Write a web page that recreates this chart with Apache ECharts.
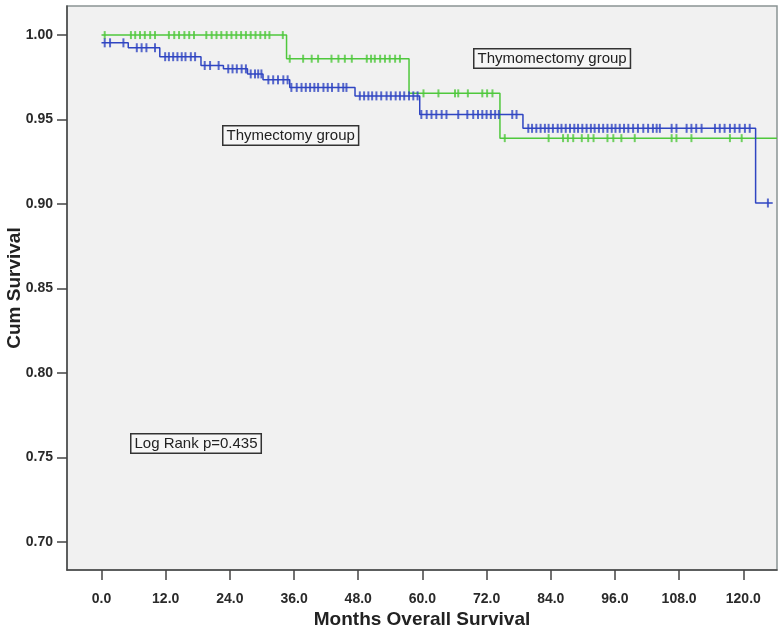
<!DOCTYPE html>
<html>
<head>
<meta charset="utf-8">
<script src="https://cdn.jsdelivr.net/npm/echarts@6/dist/echarts.min.js"></script>
<style>
  html, body { margin: 0; padding: 0; background: #fff; }
  #chart { width: 783px; height: 632px; }
</style>
</head>
<body>
<div id="chart"></div>
<script>
// axis ticks
const xTicks = [0, 12, 24, 36, 48, 60, 72, 84, 96, 108, 120];
const yTicks = [0.70, 0.75, 0.80, 0.85, 0.90, 0.95, 1.00];

// Thymomectomy group (green): step times and survival after each step
const thymomTimes = [0, 34.6, 57.5, 74.5, 126.3];
const thymomSurv = [1.0, 0.986, 0.9655, 0.939, 0.939];
const thymomCensor = [0.6, 5.5, 6.3, 7.2, 8.1, 9.1, 10, 12.6, 13.6, 14.5, 15.5, 16.4, 17.3,
  19.6, 20.6, 21.5, 22.4, 23.4, 24.3, 25.2, 26.1, 27, 27.9, 28.8, 29.7, 30.6, 31.4, 33.9,
  35.2, 37.7, 39.3, 40.5, 43, 44.3, 45.5, 46.8, 49.6, 50.4, 51.1, 52.1, 53, 53.9, 54.9, 55.8,
  60.2, 63, 66.1, 66.7, 68.5, 71.2, 72.1, 73.1,
  75.4, 83.6, 86.3, 87.2, 88.2, 89.8, 91, 92, 94.6, 95.7, 97.2, 99.7, 106.6, 107.5, 110.3, 117.5, 119.7];

// Thymectomy group (blue)
const thymecTimes = [0, 5.0, 10.9, 18.6, 22.8, 27.3, 30.2, 35.2, 47.4, 59.5, 78.8, 122.3, 125.5];
const thymecSurv = [0.9954, 0.9925, 0.9872, 0.982, 0.980, 0.977, 0.9735, 0.969, 0.964, 0.953, 0.9448, 0.9006, 0.9006];
const thymecCensor = [0.6, 1.6, 4.1, 6.6, 7.5, 8.4, 10, 11.9, 12.6, 13.4, 14.2, 15, 15.7, 16.7, 17.5,
  19.3, 20.3, 21.9, 23.7, 24.5, 25.3, 26.2, 27, 27.9, 28.7, 29.3, 29.9, 31.2, 32.1, 33, 34, 34.8,
  35.5, 36.5, 37.4, 38.2, 39, 39.8, 40.5, 41.5, 42.3, 43.1, 44.3, 45.2, 45.8,
  48.3, 49.1, 49.9, 50.6, 51.4, 52.3, 53.3, 54.1, 55, 55.8, 56.6, 57.5, 58.3, 59.1,
  59.8, 60.8, 61.7, 62.6, 63.6, 64.5, 66.7, 68.4, 69.5, 70.4, 71.2, 72, 72.8, 73.6, 74.3, 76.8, 77.6,
  79.8, 80.5, 81.3, 82.1, 82.9, 83.6, 84.4, 85.3, 86, 86.8, 87.6, 88.4, 89.1, 89.9, 90.7, 91.5, 92.2,
  93, 93.8, 94.6, 95.4, 96.1, 96.9, 97.7, 98.5, 99.4, 100.3, 101.3, 102.2, 103.1, 103.8, 104.4,
  106.6, 107.5, 109.4, 110.3, 111.2, 112.2, 114.7, 115.6, 116.5, 117.5, 118.4, 119.3, 120.3, 121.2,
  124.6];

const greenColor = '#4fc83c';
const blueColor = '#2f45c2';

function survAt(times, surv, t) {
  let s = surv[0];
  for (let i = 0; i < times.length; i++) {
    if (times[i] <= t) s = surv[i];
  }
  return s;
}

function stepData(times, surv) {
  return times.map((t, i) => [t, surv[i]]);
}

function censorData(censor, times, surv) {
  return censor.map(t => [t, survAt(times, surv, t)]);
}

const chart = echarts.init(document.getElementById('chart'));

const tickFont = {
  fontFamily: 'Liberation Sans',
  fontSize: 14,
  fontWeight: 'bold',
  color: '#2a2a2a'
};

function boxText(text, x, y) {
  return {
    type: 'text',
    left: x,
    top: y,
    z: 100,
    style: {
      text: text,
      fontFamily: 'Liberation Sans',
      fontSize: 15,
      fill: '#222',
      backgroundColor: '#f6f6f6',
      borderColor: '#333',
      borderWidth: 1.5,
      padding: [2, 3, 1, 3]
    }
  };
}

const option = {
  animation: false,
  backgroundColor: '#fff',
  grid: {
    left: 67,
    right: 6,
    top: 6,
    bottom: 62,
    outerBoundsMode: 'none',
    containLabel: false,
    show: true,
    backgroundColor: '#f1f1f1',
    borderColor: '#8a9494',
    borderWidth: 1.5
  },
  xAxis: {
    type: 'value',
    min: -6.45,
    max: 126.3,
    name: 'Months Overall Survival',
    nameLocation: 'middle',
    nameGap: 40,
    nameMoveOverlap: false,
    nameTextStyle: {
      fontFamily: 'Liberation Sans',
      fontSize: 19,
      fontWeight: 'bold',
      color: '#222'
    },
    axisLine: { show: true, onZero: false, lineStyle: { color: '#444', width: 1.5 } },
    axisTick: { show: true, length: 10, customValues: xTicks, lineStyle: { color: '#444', width: 1.5 } },
    axisLabel: Object.assign({
      customValues: xTicks,
      margin: 22,
      formatter: v => v.toFixed(1)
    }, tickFont),
    splitLine: { show: false }
  },
  yAxis: {
    type: 'value',
    min: 0.6834,
    max: 1.0172,
    name: 'Cum Survival',
    nameLocation: 'middle',
    nameGap: 43,
    nameMoveOverlap: false,
    nameTextStyle: {
      fontFamily: 'Liberation Sans',
      fontSize: 19,
      fontWeight: 'bold',
      color: '#222'
    },
    axisLine: { show: true, onZero: false, lineStyle: { color: '#444', width: 1.5 } },
    axisTick: { show: true, length: 10, customValues: yTicks, lineStyle: { color: '#444', width: 1.5 } },
    axisLabel: Object.assign({
      customValues: yTicks,
      margin: 14,
      formatter: v => v.toFixed(2)
    }, tickFont),
    splitLine: { show: false }
  },
  series: [
    {
      name: 'Thymomectomy group',
      type: 'line',
      step: 'end',
      showSymbol: false,
      data: stepData(thymomTimes, thymomSurv),
      lineStyle: { color: greenColor, width: 1.5 },
      z: 2
    },
    {
      name: 'Thymomectomy group censored',
      type: 'scatter',
      symbol: 'rect',
      symbolSize: [2, 8],
      data: censorData(thymomCensor, thymomTimes, thymomSurv),
      itemStyle: { color: greenColor },
      z: 2
    },
    {
      name: 'Thymectomy group',
      type: 'line',
      step: 'end',
      showSymbol: false,
      data: stepData(thymecTimes, thymecSurv),
      lineStyle: { color: blueColor, width: 1.5 },
      z: 3
    },
    {
      name: 'Thymectomy group censored',
      type: 'scatter',
      symbol: 'rect',
      symbolSize: [2, 9],
      data: censorData(thymecCensor, thymecTimes, thymecSurv),
      itemStyle: { color: blueColor },
      z: 3
    }
  ],
  graphic: [
    boxText('Thymomectomy group', 473, 48),
    boxText('Thymectomy group', 222, 125),
    boxText('Log Rank p=0.435', 130, 433)
  ]
};

chart.setOption(option);
</script>
</body>
</html>
